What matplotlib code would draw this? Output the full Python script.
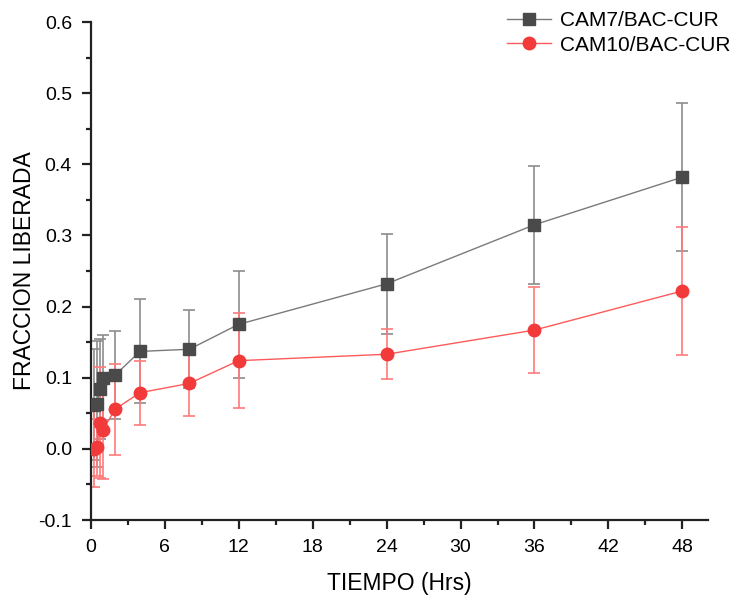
import matplotlib.pyplot as plt
from matplotlib.ticker import MultipleLocator

plt.rcParams['font.family'] = ['Liberation Sans', 'DejaVu Sans']

tiempo = [0.25, 0.5, 0.75, 1, 2, 4, 8, 12, 24, 36, 48]

cam7 = [0.062, 0.063, 0.084, 0.100, 0.104, 0.137, 0.140, 0.175, 0.232, 0.315, 0.382]
cam7_err = [0.078, 0.088, 0.070, 0.060, 0.062, 0.073, 0.055, 0.075, 0.070, 0.083, 0.104]

cam10 = [0.000, 0.002, 0.037, 0.027, 0.056, 0.079, 0.092, 0.124, 0.133, 0.167, 0.222]
cam10_err = [0.054, 0.040, 0.078, 0.070, 0.064, 0.045, 0.046, 0.067, 0.035, 0.060, 0.090]

fig = plt.figure(figsize=(7.36, 5.98), dpi=100)
ax = fig.add_axes([0.1232, 0.1304, 0.8392, 0.8328])

ax.errorbar(tiempo, cam7, yerr=cam7_err, fmt="none", ecolor="#8c8c8c",
            elinewidth=1.2, capsize=4, capthick=1.2, zorder=1)
ax.errorbar(tiempo, cam10, yerr=cam10_err, fmt="none", ecolor="#ff7a7a",
            elinewidth=1.2, capsize=4, capthick=1.2, zorder=1)
ax.plot(tiempo, cam7, color="#7a7a7a", linewidth=1.0, marker="s", markersize=8,
        markerfacecolor="#4a4a4a", markeredgecolor="#4a4a4a", label="CAM7/BAC-CUR", zorder=3)
ax.plot(tiempo, cam10, color="#ff5a5a", linewidth=1.0, marker="o", markersize=9,
        markerfacecolor="#f23a3a", markeredgecolor="#f23a3a", label="CAM10/BAC-CUR", zorder=3)

ax.set_xlim(0, 50.1)
ax.set_ylim(-0.1, 0.6)
ax.xaxis.set_major_locator(MultipleLocator(6))
ax.xaxis.set_minor_locator(MultipleLocator(3))
ax.yaxis.set_major_locator(MultipleLocator(0.1))
ax.yaxis.set_minor_locator(MultipleLocator(0.05))
ax.set_yticks([-0.1, 0.0, 0.1, 0.2, 0.3, 0.4, 0.5, 0.6])
ax.set_yticklabels(["-0.1", "0.0", "0.1", "0.2", "0.3", "0.4", "0.5", "0.6"])

for s in ["top", "right"]:
    ax.spines[s].set_visible(False)
for s in ["left", "bottom"]:
    ax.spines[s].set_linewidth(1.6)
    ax.spines[s].set_color("#222222")
ax.tick_params(which="major", direction="out", length=6.5, width=1.6, labelsize=14, colors="#222222")
ax.tick_params(which="minor", direction="out", length=3.5, width=1.6, colors="#222222")
ax.tick_params(labelcolor="black")
ax.tick_params(axis="x", which="major", pad=7)
ax.tick_params(axis="y", which="major", pad=7)

ax.set_xlabel("TIEMPO (Hrs)", fontsize=16.5, labelpad=12)
ax.set_ylabel("FRACCION LIBERADA", fontsize=16.5, labelpad=2)

ax.legend(loc="upper right", bbox_to_anchor=(1.008, 1.0), bbox_transform=fig.transFigure,
          frameon=False, fontsize=15, handlelength=2.1, handletextpad=0.45,
          labelspacing=0.25, borderaxespad=0.15)

fig.savefig("out.png", dpi=100)
